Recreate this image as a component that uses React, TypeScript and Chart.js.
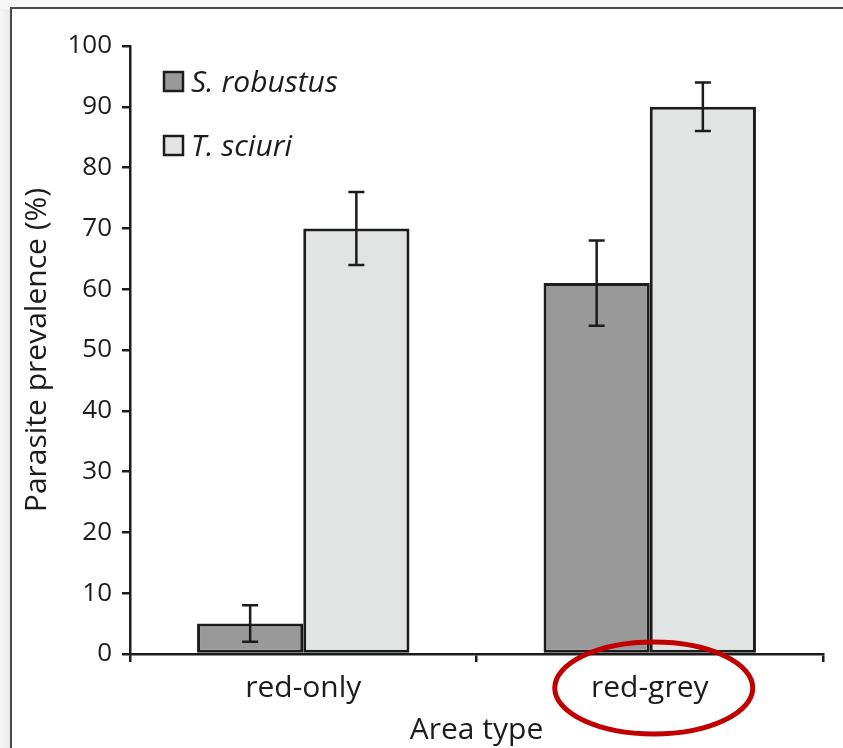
import React, { useEffect, useRef } from "react";
import { Chart, registerables } from "chart.js";

Chart.register(...registerables);

const categories = ["red-only", "red-grey"];
const seriesNames = ["S. robustus", "T. sciuri"];
const sRobustus = [5, 61];
const sRobustusLow = [2, 54];
const sRobustusHigh = [8, 68];
const tSciuri = [70, 90];
const tSciuriLow = [64, 86];
const tSciuriHigh = [76, 94];
const yTicks = [0, 10, 20, 30, 40, 50, 60, 70, 80, 90, 100];

const FONT = "'Open Sans', Lato, sans-serif";
const INK = "#1c1c1c";

const framePlugin = {
  id: "frame",
  beforeDraw(chart: any) {
    const { ctx, width, height } = chart;
    ctx.save();
    const g = ctx.createLinearGradient(0, 0, 12, 0);
    g.addColorStop(0, "#f6f6f6");
    g.addColorStop(1, "#e6e6e6");
    ctx.fillStyle = g;
    ctx.fillRect(0, 0, width, height);
    ctx.fillStyle = "#f7f7f7";
    ctx.fillRect(0, 0, width, 9);
    ctx.fillStyle = "#ffffff";
    ctx.fillRect(12, 9, width - 12, height - 9);
    ctx.strokeStyle = "#4a4a4a";
    ctx.lineWidth = 2;
    ctx.beginPath();
    ctx.moveTo(11, height);
    ctx.lineTo(11, 8);
    ctx.lineTo(width, 8);
    ctx.stroke();
    ctx.restore();
  },
};

const errorBarPlugin = {
  id: "errorBars",
  afterDatasetsDraw(chart: any) {
    const { ctx } = chart;
    const y = chart.scales.y;
    const lows = [sRobustusLow, tSciuriLow];
    const highs = [sRobustusHigh, tSciuriHigh];
    ctx.save();
    ctx.strokeStyle = INK;
    ctx.lineWidth = 2.5;
    chart.data.datasets.forEach((_: any, di: number) => {
      const meta = chart.getDatasetMeta(di);
      meta.data.forEach((bar: any, i: number) => {
        const x = bar.x;
        const yl = y.getPixelForValue(lows[di][i]);
        const yh = y.getPixelForValue(highs[di][i]);
        ctx.beginPath();
        ctx.moveTo(x, yl);
        ctx.lineTo(x, yh);
        ctx.moveTo(x - 8, yl);
        ctx.lineTo(x + 8, yl);
        ctx.moveTo(x - 8, yh);
        ctx.lineTo(x + 8, yh);
        ctx.stroke();
      });
    });
    ctx.restore();
  },
};

const legendPlugin = {
  id: "insideLegend",
  afterDraw(chart: any) {
    const { ctx } = chart;
    const x0 = chart.chartArea.left + 34;
    const y0 = chart.chartArea.top + 36;
    ctx.save();
    chart.data.datasets.forEach((ds: any, i: number) => {
      const cy = y0 + i * 64;
      ctx.fillStyle = ds.backgroundColor;
      ctx.fillRect(x0, cy - 10, 19, 19);
      ctx.strokeStyle = INK;
      ctx.lineWidth = 2.5;
      ctx.strokeRect(x0, cy - 10, 19, 19);
      ctx.fillStyle = INK;
      ctx.font = `italic 30px ${FONT}`;
      ctx.textBaseline = "middle";
      ctx.textAlign = "left";
      ctx.fillText(ds.label, x0 + 27, cy + 1);
    });
    ctx.restore();
  },
};

const ellipsePlugin = {
  id: "highlight",
  afterDraw(chart: any) {
    const { ctx } = chart;
    const x = chart.scales.x.getPixelForValue(1) + 4;
    const cy = chart.chartArea.bottom + 34;
    ctx.save();
    ctx.strokeStyle = "#c00000";
    ctx.lineWidth = 5;
    ctx.beginPath();
    ctx.ellipse(x, cy, 99, 46, 0, 0, Math.PI * 2);
    ctx.stroke();
    ctx.restore();
  },
};

export default function App() {
  const ref = useRef<HTMLCanvasElement | null>(null);
  useEffect(() => {
    if (!ref.current) return;
    const chart = new Chart(ref.current, {
      type: "bar",
      data: {
        labels: categories,
        datasets: [
          {
            label: seriesNames[0],
            data: sRobustus,
            backgroundColor: "#999999",
            borderColor: INK,
            borderWidth: 3,
            borderSkipped: false,
          },
          {
            label: seriesNames[1],
            data: tSciuri,
            backgroundColor: "#e2e3e3",
            borderColor: INK,
            borderWidth: 3,
            borderSkipped: false,
          },
        ],
      },
      options: {
        animation: false,
        responsive: false,
        maintainAspectRatio: false,
        layout: { padding: { left: 0, top: 46, right: 20, bottom: 0 } },
        datasets: { bar: { categoryPercentage: 0.613, barPercentage: 1 } },
        plugins: { legend: { display: false }, tooltip: { enabled: false } },
        scales: {
          x: {
            offset: true,
            grid: {
              offset: true,
              drawOnChartArea: false,
              drawTicks: true,
              tickLength: 8,
              color: INK,
              lineWidth: 2.5,
            },
            border: { display: true, color: INK, width: 2.5 },
            ticks: { color: INK, font: { family: FONT, size: 30 }, padding: 8 },
            title: {
              display: true,
              text: "Area type",
              color: INK,
              font: { family: FONT, size: 30 },
              padding: { top: 0, bottom: 0 },
            },
            afterFit(scale: any) {
              scale.height = 94;
            },
          },
          y: {
            min: 0,
            max: 100,
            afterBuildTicks(scale: any) {
              scale.ticks = yTicks.map((v) => ({ value: v }));
            },
            grid: {
              drawOnChartArea: false,
              drawTicks: true,
              tickLength: 8,
              color: INK,
              lineWidth: 2.5,
            },
            border: { display: true, color: INK, width: 2.5 },
            ticks: { color: INK, font: { family: FONT, size: 26 }, padding: 10 },
            title: {
              display: true,
              text: "Parasite prevalence (%)",
              color: INK,
              font: { family: FONT, size: 30 },
              padding: { top: 19, bottom: 0 },
            },
            afterFit(scale: any) {
              scale.width = 130;
            },
          },
        },
      },
      plugins: [framePlugin, errorBarPlugin, legendPlugin, ellipsePlugin],
    });
    return () => chart.destroy();
  }, []);
  return (
    <div style={{ position: "fixed", left: 0, top: 0, width: 843, height: 748 }}>
      <canvas ref={ref} width={843} height={748} style={{ width: 843, height: 748, display: "block" }} />
    </div>
  );
}
